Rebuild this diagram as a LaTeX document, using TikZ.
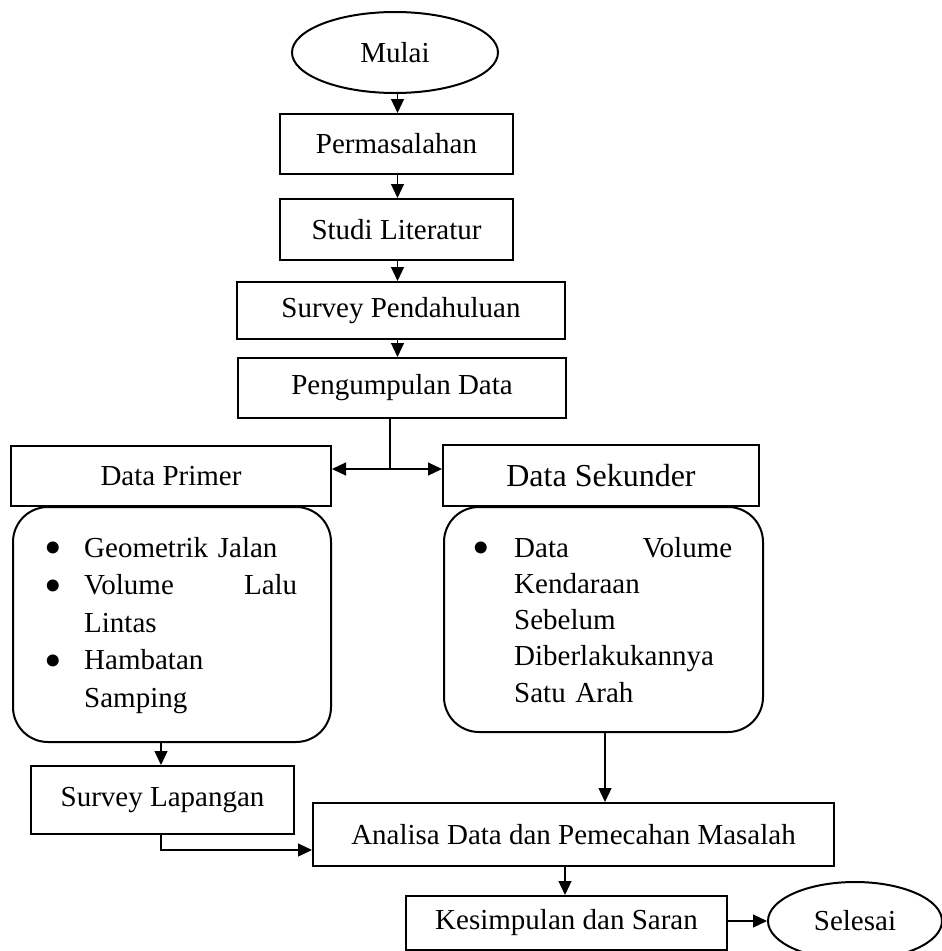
\documentclass[tikz,border=0pt]{standalone}
\usepackage{fontspec}
\setmainfont{Liberation Serif}
\usetikzlibrary{shapes.geometric,arrows.meta}
\newcommand{\bigbul}{\smash{\raisebox{-7.5pt}{\fontsize{50}{50}\selectfont •}}}
\begin{document}
\begin{tikzpicture}[x=1pt,y=-1pt,
  box/.style={draw,line width=2pt,inner sep=0pt,font=\fontsize{29}{37}\selectfont},
  oval/.style={draw,ellipse,line width=2pt,inner sep=0pt,font=\fontsize{29}{37}\selectfont},
  rbox/.style={draw,line width=2pt,rounded corners=35pt,inner sep=0pt},
  arr/.style={line width=1.2pt,-{Triangle[width=13pt,length=14pt]}},
  ln/.style={line width=1.2pt},
  lst/.style={anchor=base west,inner sep=0pt,text width=260pt,align=left}]
\useasboundingbox (0,0) rectangle (942,951);

\node[oval,minimum width=206pt,minimum height=81pt] (mulai) at (395,52.5) {Mulai};
\node[box,minimum width=233pt,minimum height=60pt] (perm) at (396.5,144) {Permasalahan};
\node[box,minimum width=233pt,minimum height=61pt] (studi) at (396.5,229.5) {Studi Literatur};
\node[box,minimum width=328pt,minimum height=57pt] (spend) at (401,310.5) {Survey Pendahuluan};
\node[box,minimum width=328pt,minimum height=60pt] (peng) at (402,388) {Pengumpulan Data};
\node[box,minimum width=320pt,minimum height=60pt] (primer) at (171,476) {Data Primer};
\node[box,minimum width=316pt,minimum height=61pt,font=\fontsize{32}{38}\selectfont] (sekunder) at (601,475.5) {Data Sekunder};
\node[rbox,minimum width=318pt,minimum height=235pt] (rleft) at (172,624.5) {};
\node[rbox,minimum width=319pt,minimum height=225pt] (rright) at (603.5,619.5) {};
\node[box,minimum width=263pt,minimum height=68pt] (slap) at (162.5,800) {Survey Lapangan};
\node[box,minimum width=521pt,minimum height=63pt] (ana) at (573.5,834.5) {Analisa Data dan Pemecahan Masalah};
\node[box,minimum width=321pt,minimum height=54pt] (kes) at (566.5,923) {Kesimpulan dan Saran};
\node[oval,minimum width=174pt,minimum height=78pt] (sel) at (855,921) {Selesai};

\node[lst,font=\fontsize{29}{37.5}\selectfont] (listl) at (84,557) {%
\leavevmode\llap{\bigbul\hspace{22pt}}Geometrik Jalan\\
\leavevmode\llap{\bigbul\hspace{22pt}}\hbox to 213pt{Volume\hfill Lalu}\\
Lintas\\
\leavevmode\llap{\bigbul\hspace{22pt}}Hambatan\\
Samping};
\node[lst,font=\fontsize{29}{36.3}\selectfont] (listr) at (514,557) {%
\leavevmode\llap{\bigbul\hspace{24pt}}\hbox to 218pt{Data\hfill Volume}\\
Kendaraan\\
Sebelum\\
Diberlakukannya\\
Satu Arah};

\coordinate (col) at (397.5,0);
\draw[arr] (mulai.south -| col) -- (perm.north -| col);
\draw[arr] (perm.south -| col) -- (studi.north -| col);
\draw[arr] (studi.south -| col) -- (spend.north -| col);
\draw[arr] (spend.south -| col) -- (peng.north -| col);
\coordinate (j) at (390,469);
\draw[ln] (peng.south -| j) -- (j);
\draw[arr] (j) -- (j -| primer.east);
\draw[arr] (j) -- (j -| sekunder.west);
\coordinate (cl) at (161,0);
\draw[arr] (rleft.south -| cl) -- (slap.north -| cl);
\coordinate (sl) at (161,850);
\draw[arr] (slap.south -| sl) |- (sl -| ana.west);
\coordinate (cr) at (605,0);
\draw[arr] (rright.south -| cr) -- (ana.north -| cr);
\coordinate (ck) at (565,0);
\draw[arr] (ana.south -| ck) -- (kes.north -| ck);
\coordinate (ce) at (0,921);
\draw[arr] (kes.east |- ce) -- (sel.west |- ce);
\end{tikzpicture}
\end{document}
